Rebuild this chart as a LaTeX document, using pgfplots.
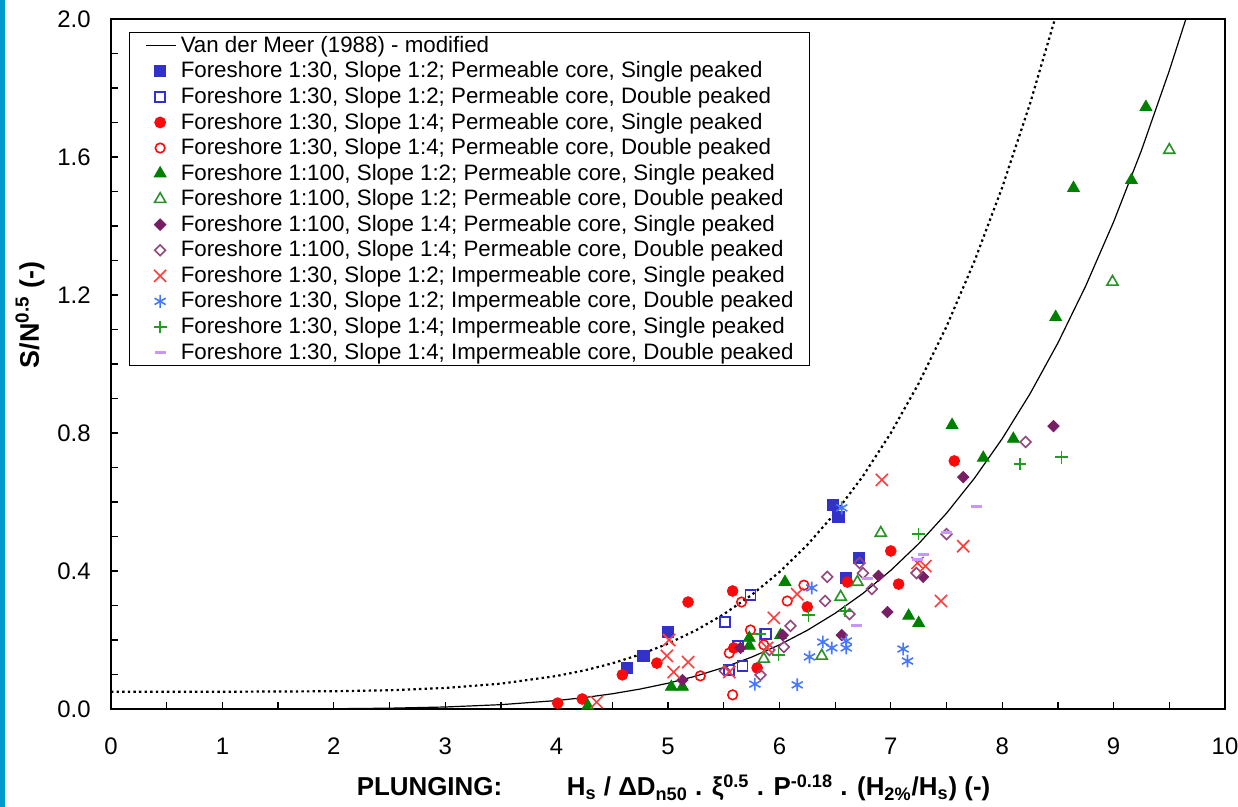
\documentclass[border=0pt]{standalone}
\usepackage{fontspec}
\setmainfont{Liberation Sans}
\usepackage{pgfplots}
\pgfplotsset{compat=1.18}

\definecolor{sqblue}{RGB}{50,50,200}
\definecolor{ptred}{RGB}{250,10,10}
\definecolor{trigreen}{RGB}{0,128,0}
\definecolor{trigreenl}{RGB}{40,145,40}
\definecolor{dmpurple}{RGB}{120,30,100}
\definecolor{dmpurplel}{RGB}{145,70,125}
\definecolor{xred}{RGB}{255,60,60}
\definecolor{astblue}{RGB}{70,120,255}
\definecolor{plgreen}{RGB}{30,160,30}
\definecolor{lilac}{RGB}{200,150,255}
\definecolor{edgeblue}{RGB}{0,153,204}

\begin{document}
\begin{tikzpicture}
\useasboundingbox (-55.5bp,-49bp) rectangle (563.5bp,354.5bp);
\fill[edgeblue] (-55.5bp,-49bp) rectangle (-53bp,354.5bp);
\begin{axis}[
  at={(0,0)}, anchor=south west,
  scale only axis, width=557bp, height=345bp,
  xmin=0, xmax=10, ymin=0, ymax=2,
  xtick={0,1,2,3,4,5,6,7,8,9,10}, minor x tick num=1,
  ytick={0,0.4,0.8,1.2,1.6,2.0}, minor y tick num=3,
  tick pos=left, tick align=inside,
  major tick length=3.5bp, minor tick length=3.5bp,
  every tick/.style={black, line width=0.6bp},
  axis line style={line width=0.8bp},
  /pgf/number format/assume math mode=true,
  ticklabel style={font=\fontsize{12}{14}\selectfont},
  yticklabel style={anchor=east, inner sep=0pt, xshift=-10bp,
    /pgf/number format/.cd, fixed, fixed zerofill, precision=1},
  xticklabel style={anchor=center, inner sep=0pt, yshift=-18.5bp},
  every axis y label/.style={at={(axis description cs:0,0.571)}, xshift=-40.5bp,
    rotate=90, anchor=center, font=\bfseries\fontsize{13.5}{15}\selectfont},
  every axis x label/.style={at={(axis description cs:0.505,0)}, yshift=-39.5bp,
    anchor=center, font=\bfseries\fontsize{13}{15}\selectfont},
  ylabel={S/N\textsuperscript{0.5} (-)},
  xlabel={PLUNGING:\hspace{2.5em}H\textsubscript{s} / ΔD\textsubscript{n50} . ξ\textsuperscript{0.5} . P\textsuperscript{-0.18} . (H\textsubscript{2\%}/H\textsubscript{s}) (-)},
  legend style={at={(axis description cs:0.0162,0.981)}, anchor=north west,
    draw=black, line width=0.5bp, fill=white,
    font=\fontsize{11.2}{13}\selectfont,
    nodes={inner sep=0pt}, row sep=3.2bp, column sep=2bp,
    inner xsep=8bp, inner ysep=1.8bp},
  legend cell align=left,
  legend image code/.code={\draw[mark repeat=2,mark phase=2,#1] plot coordinates {(0bp,0bp) (7bp,0bp) (15bp,0bp)};},
]
% Van der Meer (1988) - modified
\addplot[black, line width=0.6bp] coordinates {
(0,0) (1,0.00002) (2,0.00077) (2.5,0.00234) (3,0.00581) (3.5,0.01256)
(4,0.02449) (4.25,0.03315) (4.5,0.04412) (4.75,0.05782) (5,0.07473)
(5.25,0.09537) (5.5,0.12034) (5.75,0.15029) (6,0.18593) (6.25,0.22804)
(6.5,0.27744) (6.75,0.33505) (7,0.40188) (7.25,0.47896) (7.5,0.56744)
(7.75,0.66852) (8,0.78352) (8.25,0.91383) (8.5,1.06095) (8.75,1.22644)
(9,1.41194) (9.25,1.61924) (9.5,1.85020) (9.65,2.00096)};
\addlegendentry{Van der Meer (1988) - modified}
% upper (dotted) curve
\addplot[black, line width=1.1bp, dash pattern=on 1.2bp off 1.6bp, forget plot] coordinates {
(0,0.05) (1,0.05004) (2,0.05143) (2.5,0.05436) (3,0.06084) (3.5,0.07343)
(4,0.09568) (4.25,0.11186) (4.5,0.13232) (4.75,0.15788) (5,0.18942)
(5.25,0.22793) (5.5,0.27452) (5.75,0.33040) (6,0.39689) (6.25,0.47546)
(6.5,0.56763) (6.75,0.67511) (7,0.79980) (7.25,0.94361) (7.5,1.10869)
(7.75,1.29727) (8,1.51183) (8.25,1.75495) (8.5,2.02942)};

\addplot[only marks, mark=square*, mark size=2.8bp, color=sqblue] coordinates {
(4.63,0.119) (4.78,0.154) (5.00,0.223) (6.48,0.591) (6.53,0.557) (6.71,0.438) (6.60,0.380)};
\addlegendentry{Foreshore 1:30, Slope 1:2; Permeable core, Single peaked}

\addplot[only marks, mark=square, mark size=2.5bp, color=sqblue, mark options={line width=0.8bp}] coordinates {
(5.74,0.330) (5.51,0.252) (5.88,0.217) (5.63,0.183) (5.55,0.113) (5.67,0.125)};
\addlegendentry{Foreshore 1:30, Slope 1:2; Permeable core, Double peaked}

\addplot[only marks, mark=*, mark size=2.7bp, color=ptred] coordinates {
(4.01,0.017) (4.23,0.029) (4.59,0.099) (4.90,0.133) (5.18,0.310) (5.58,0.342)
(5.59,0.177) (5.80,0.119) (6.25,0.296) (6.61,0.368) (7.00,0.458) (7.07,0.362) (7.57,0.719)};
\addlegendentry{Foreshore 1:30, Slope 1:4; Permeable core, Single peaked}

\addplot[only marks, mark=o, mark size=2.4bp, color=ptred, mark options={line width=0.8bp}] coordinates {
(5.29,0.096) (5.66,0.310) (5.74,0.229) (5.55,0.162) (5.58,0.041) (5.86,0.186) (6.07,0.313) (6.22,0.359)};
\addlegendentry{Foreshore 1:30, Slope 1:4; Permeable core, Double peaked}

\addplot[only marks, mark=triangle*, mark size=3.4bp, color=trigreen] coordinates {
(4.28,0.009) (5.03,0.064) (5.13,0.064) (5.73,0.206) (5.73,0.183) (6.01,0.214)
(6.05,0.368) (7.16,0.270) (7.25,0.249) (7.55,0.823) (7.83,0.728) (8.10,0.783)
(8.48,1.136) (8.64,1.510) (9.16,1.533) (9.29,1.745)};
\addlegendentry{Foreshore 1:100, Slope 1:2; Permeable core, Single peaked}

\addplot[only marks, mark=triangle, mark size=3.2bp, color=trigreenl, mark options={line width=0.8bp}] coordinates {
(5.86,0.145) (6.38,0.154) (6.55,0.325) (6.70,0.368) (6.91,0.510) (8.99,1.238) (9.50,1.620)};
\addlegendentry{Foreshore 1:100, Slope 1:2; Permeable core, Double peaked}

\addplot[only marks, mark=square*, mark size=2bp, color=dmpurple, mark options={rotate=45}] coordinates {
(5.13,0.084) (5.65,0.177) (6.03,0.214) (6.56,0.214) (6.89,0.386) (6.97,0.281)
(7.29,0.383) (7.65,0.672) (8.46,0.820)};
\addlegendentry{Foreshore 1:100, Slope 1:4; Permeable core, Single peaked}

\addplot[only marks, mark=square, mark size=1.9bp, color=dmpurplel, mark options={rotate=45, line width=0.8bp}] coordinates {
(5.51,0.110) (5.83,0.099) (5.91,0.171) (6.04,0.180) (6.10,0.241) (6.41,0.313)
(6.43,0.383) (6.63,0.275) (6.72,0.423) (6.75,0.394) (6.83,0.348) (7.23,0.394)
(7.50,0.507) (8.21,0.774)};
\addlegendentry{Foreshore 1:100, Slope 1:4; Permeable core, Double peaked}

\addplot[only marks, mark=x, mark size=4.3bp, color=xred, mark options={line width=0.8bp}] coordinates {
(4.36,0.020) (4.99,0.154) (5.01,0.200) (5.05,0.107) (5.18,0.136) (5.55,0.107)
(5.89,0.177) (5.95,0.264) (6.16,0.333) (6.92,0.664) (7.24,0.423) (7.31,0.414)
(7.45,0.313) (7.65,0.472)};
\addlegendentry{Foreshore 1:30, Slope 1:2; Impermeable core, Single peaked}

\addplot[only marks, mark=asterisk, mark size=3.2bp, color=astblue, mark options={line width=0.8bp}] coordinates {
(5.78,0.072) (6.16,0.070) (6.27,0.151) (6.29,0.351) (6.39,0.194) (6.47,0.177)
(6.56,0.583) (6.60,0.197) (6.60,0.177) (7.11,0.174) (7.15,0.139)};
\addlegendentry{Foreshore 1:30, Slope 1:2; Impermeable core, Double peaked}

\addplot[only marks, mark=+, mark size=3.2bp, color=plgreen, mark options={line width=0.75bp}] coordinates {
(5.82,0.217) (5.99,0.157) (6.26,0.272) (6.59,0.284) (7.25,0.507) (8.16,0.710) (8.53,0.730)};
\addlegendentry{Foreshore 1:30, Slope 1:4; Impermeable core, Single peaked}

\addplot[only marks, mark=-, mark size=2.8bp, color=lilac, mark options={line width=1.5bp}] coordinates {
(6.69,0.243) (6.79,0.377) (7.24,0.432) (7.29,0.449) (7.50,0.513) (7.77,0.588)};
\addlegendentry{Foreshore 1:30, Slope 1:4; Impermeable core, Double peaked}
\end{axis}
\end{tikzpicture}
\end{document}
